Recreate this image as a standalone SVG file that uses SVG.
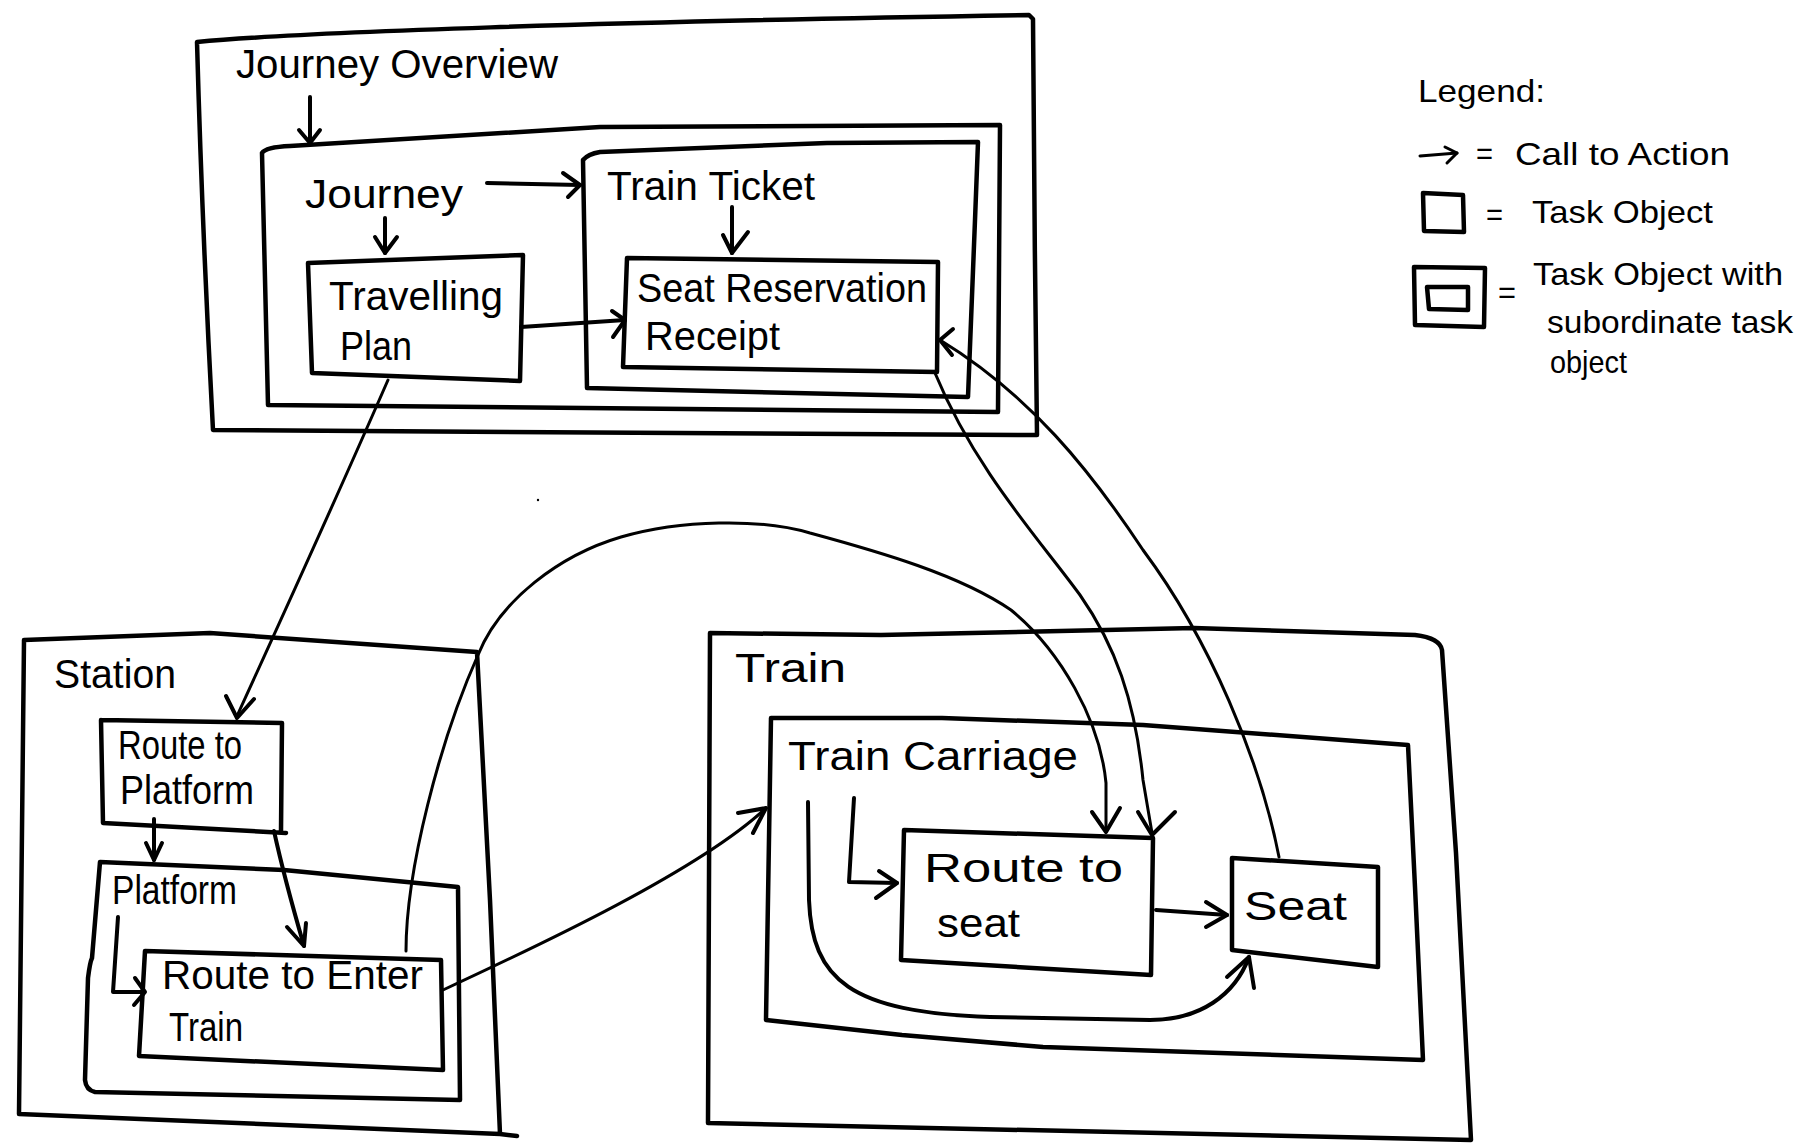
<svg xmlns="http://www.w3.org/2000/svg" width="1807" height="1147" viewBox="0 0 1807 1147">
  <style>
    .box { fill: none; stroke: #000; stroke-width: 4.5; stroke-linejoin: round; stroke-linecap: round; }
    .wire { fill: none; stroke: #000; stroke-width: 3; stroke-linejoin: round; stroke-linecap: round; }
    .flow { fill: none; stroke: #000; stroke-width: 4; stroke-linejoin: round; stroke-linecap: round; }
    .head { fill: none; stroke: #000; stroke-width: 4; stroke-linejoin: round; stroke-linecap: round; }
    .lbl { font-family: "Liberation Sans", Arial, sans-serif; font-size: 40px; fill: #000; }
    .leg { font-family: "Liberation Sans", Arial, sans-serif; font-size: 32px; fill: #000; }
  </style>
  <rect width="1807" height="1147" fill="#fff"/>

  <!-- Journey Overview and its children -->
  <g id="journey-overview">
    <path class="box" d="M197,42 C300,32 600,22 1029,15 L1033,19 C1034,150 1035,300 1037,435 C800,434 500,432 213,430 C206,300 200,150 197,42 Z"/>
    <text class="lbl" x="236" y="78" textLength="322" lengthAdjust="spacingAndGlyphs">Journey Overview</text>
  </g>
  <g id="journey">
    <path class="box" d="M262,153 Q266,147 290,146 L600,127 L1000,125 L998,412 L268,405 Z"/>
    <text class="lbl" x="305" y="208" textLength="158" lengthAdjust="spacingAndGlyphs">Journey</text>
  </g>
  <g id="travelling-plan">
    <path class="box" d="M308,263 L523,255 L520,381 L312,373 Z"/>
    <text class="lbl" x="329" y="310" font-size="42" textLength="174" lengthAdjust="spacingAndGlyphs">Travelling</text>
    <text class="lbl" x="340" y="360" font-size="42" textLength="72" lengthAdjust="spacingAndGlyphs">Plan</text>
  </g>
  <g id="train-ticket">
    <path class="box" d="M583,160 Q588,154 600,152 L827,143 L978,142 L975,220 L968,397 L587,388 Z"/>
    <text class="lbl" x="607" y="200" textLength="208" lengthAdjust="spacingAndGlyphs">Train Ticket</text>
  </g>
  <g id="seat-reservation-receipt">
    <path class="box" d="M627,258 L938,262 L937,372 L623,367 Z"/>
    <text class="lbl" x="637" y="302" textLength="290" lengthAdjust="spacingAndGlyphs">Seat Reservation</text>
    <text class="lbl" x="645" y="350" textLength="135" lengthAdjust="spacingAndGlyphs">Receipt</text>
  </g>

  <!-- Station and its children -->
  <g id="station">
    <path class="box" d="M24,640 L210,633 L477,652 L490,900 L500,1134 L517,1136 M500,1134 L19,1114 L24,640"/>
    <text class="lbl" x="54" y="688" font-size="38" textLength="122" lengthAdjust="spacingAndGlyphs">Station</text>
  </g>
  <g id="route-to-platform">
    <path class="box" d="M101,720 L282,723 L281,831 M286,833 L103,823 L101,720"/>
    <text class="lbl" x="118" y="759" font-size="34" textLength="124" lengthAdjust="spacingAndGlyphs">Route to</text>
    <text class="lbl" x="120" y="804" font-size="34" textLength="134" lengthAdjust="spacingAndGlyphs">Platform</text>
  </g>
  <g id="platform">
    <path class="box" d="M100,862 L284,870 L458,887 L460,1100 L95,1092 Q86,1090 85,1080 L88,978 Q90,962 92,958 Z"/>
    <text class="lbl" x="112" y="904" font-size="36" textLength="125" lengthAdjust="spacingAndGlyphs">Platform</text>
  </g>
  <g id="route-to-enter-train">
    <path class="box" d="M145,951 L441,960 L443,1070 L139,1056 Z"/>
    <text class="lbl" x="162" y="989" font-size="36" textLength="261" lengthAdjust="spacingAndGlyphs">Route to Enter</text>
    <text class="lbl" x="169" y="1041" font-size="36" textLength="74" lengthAdjust="spacingAndGlyphs">Train</text>
  </g>

  <!-- Train and its children -->
  <g id="train">
    <path class="box" d="M710,633 L881,635 L1194,628 L1415,635 Q1440,638 1442,650 L1456,853 L1471,1140 L708,1123 Z"/>
    <text class="lbl" x="735" y="682" font-size="42" textLength="111" lengthAdjust="spacingAndGlyphs">Train</text>
  </g>
  <g id="train-carriage">
    <path class="box" d="M771,718 L942,718 L1143,725 L1408,745 L1415,887 L1423,1060 L1043,1047 L902,1035 L766,1020 Z"/>
    <text class="lbl" x="788" y="770" textLength="290" lengthAdjust="spacingAndGlyphs">Train Carriage</text>
  </g>
  <g id="route-to-seat">
    <path class="box" d="M904,830 L1153,838 L1151,975 L901,960 Z"/>
    <text class="lbl" x="924" y="882" font-size="46" textLength="199" lengthAdjust="spacingAndGlyphs">Route to</text>
    <text class="lbl" x="937" y="937" font-size="44" textLength="83" lengthAdjust="spacingAndGlyphs">seat</text>
  </g>
  <g id="seat">
    <path class="box" d="M1232,858 L1378,867 L1378,967 L1232,950 Z"/>
    <text class="lbl" x="1244" y="920" font-size="44" textLength="103" lengthAdjust="spacingAndGlyphs">Seat</text>
  </g>

  <!-- Calls to action -->
  <g id="connectors">
    <path class="flow" d="M310,97 L310,143"/>
    <path class="head" d="M299,130 L310,143 L320,130"/>

    <path class="flow" d="M385,218 L385,253"/>
    <path class="head" d="M375,237 L385,253 L397,237"/>

    <path class="flow" d="M487,183 L580,185"/>
    <path class="head" d="M563,173 L580,185 L568,197"/>

    <path class="flow" d="M732,207 L732,253"/>
    <path class="head" d="M723,235 L732,253 L748,232"/>

    <path class="flow" d="M521,327 L625,320"/>
    <path class="head" d="M612,311 L625,320 L613,337"/>

    <path class="wire" d="M388,380 C340,490 290,600 237,716"/>
    <path class="head" d="M226,696 L237,718 L254,699"/>

    <path class="wire" d="M935,373 C975,470 1040,540 1080,595 C1115,645 1135,700 1143,780 L1152,833"/>
    <path class="head" d="M1138,812 L1152,835 L1175,812"/>

    <path class="wire" d="M406,951 C406,870 440,740 478,655 C500,600 560,555 621,537 C680,520 760,518 810,533 C880,552 960,575 1011,610 C1060,650 1100,720 1106,783 L1106,830"/>
    <path class="head" d="M1092,812 L1106,832 L1120,808"/>

    <path class="wire" d="M1279,857 C1260,760 1210,640 1143,550 C1090,470 1030,395 940,340"/>
    <path class="head" d="M953,329 L940,340 L952,355"/>

    <path class="flow" d="M154,819 L154,860"/>
    <path class="head" d="M146,843 L154,860 L162,843"/>

    <path class="flow" d="M274,831 C284,877 295,915 304,946"/>
    <path class="head" d="M287,927 L304,946 L306,923"/>

    <path class="flow" d="M118,917 L113,992 L144,992"/>
    <path class="head" d="M135,978 L145,992 L134,1005"/>

    <path class="wire" d="M443,990 C540,945 700,870 766,808"/>
    <path class="head" d="M738,813 L766,808 L753,833"/>

    <path class="flow" d="M854,798 L849,882 L897,883"/>
    <path class="head" d="M879,871 L897,883 L876,898"/>

    <path class="flow" d="M808,802 L809,900 C812,980 850,1012 990,1017 L1150,1020 C1200,1020 1235,995 1249,957"/>
    <path class="head" d="M1227,977 L1249,957 L1254,988"/>

    <path class="flow" d="M1156,910 L1227,915"/>
    <path class="head" d="M1206,902 L1227,915 L1206,927"/>
  </g>

  <circle cx="538" cy="500" r="1.2" fill="#000"/>

  <!-- Legend -->
  <g id="legend">
    <text class="leg" x="1418" y="102" textLength="127" lengthAdjust="spacingAndGlyphs">Legend:</text>
    <path class="wire" d="M1420,156 L1457,153"/>
    <path class="wire" d="M1445,147 L1457,153 L1447,163"/>
    <text class="leg" x="1476" y="164" font-size="28" textLength="17" lengthAdjust="spacingAndGlyphs">=</text>
    <text class="leg" x="1515" y="165" font-size="36" textLength="215" lengthAdjust="spacingAndGlyphs">Call to Action</text>
    <path class="box" d="M1423,193 L1463,195 L1464,232 L1424,231 Z" stroke-width="3.5"/>
    <text class="leg" x="1486" y="225" font-size="28" textLength="17" lengthAdjust="spacingAndGlyphs">=</text>
    <text class="leg" x="1532" y="223" font-size="34" textLength="181" lengthAdjust="spacingAndGlyphs">Task Object</text>
    <path class="box" d="M1414,267 L1485,268 L1484,327 L1415,325 Z" stroke-width="3.5"/>
    <path class="box" d="M1427,287 L1468,287 L1468,310 L1429,309 Z" stroke-width="3.5"/>
    <text class="leg" x="1498" y="303" font-size="28" textLength="18" lengthAdjust="spacingAndGlyphs">=</text>
    <text class="leg" x="1533" y="285" font-size="30" textLength="250" lengthAdjust="spacingAndGlyphs">Task Object with</text>
    <text class="leg" x="1547" y="333" font-size="30" textLength="246" lengthAdjust="spacingAndGlyphs">subordinate task</text>
    <text class="leg" x="1550" y="373" font-size="30" textLength="77" lengthAdjust="spacingAndGlyphs">object</text>
  </g>
</svg>
